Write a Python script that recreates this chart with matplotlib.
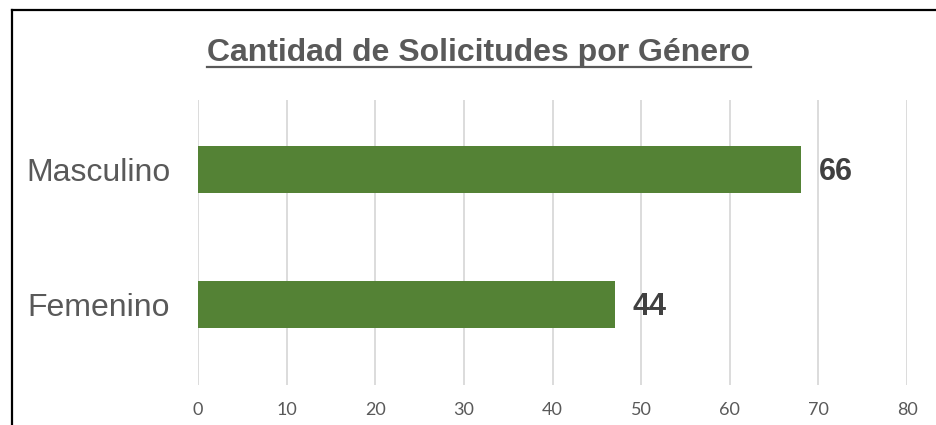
import matplotlib
matplotlib.use("Agg")
import matplotlib.pyplot as plt
from matplotlib.lines import Line2D

categories = ["Femenino", "Masculino"]
bar_values = [47, 68]
label_texts = ["44", "66"]
xticks = [0, 10, 20, 30, 40, 50, 60, 70, 80]

W, H = 936, 425
fig = plt.figure(figsize=(W / 100, H / 100), dpi=100)
fig.patch.set_facecolor("white")

ax = fig.add_axes([198 / W, 1 - 385 / H, (907 - 198) / W, (385 - 100) / H])
ypos = list(range(len(categories)))
ax.barh(ypos, bar_values, height=0.35, color="#548235", zorder=3)
ax.set_xlim(0, 80)
ax.set_ylim(-0.596, 1.515)
ax.set_xticks(xticks)
ax.set_xticklabels([str(t) for t in xticks], family="Lato", fontsize=13, color="#595959")
ax.set_yticks(ypos)
ax.set_yticklabels(categories, family="Liberation Sans", fontsize=23, color="#595959")
ax.tick_params(axis="both", length=0)
ax.tick_params(axis="x", pad=12)
ax.tick_params(axis="y", pad=20)
ax.grid(axis="x", color="#d9d9d9", linewidth=1.3, zorder=0)
for s in ax.spines.values():
    s.set_visible(False)

for y, v, t in zip(ypos, bar_values, label_texts):
    ax.annotate(t, (v, y), xytext=(13, -2), textcoords="offset points",
                ha="left", va="center", family="Liberation Sans",
                fontweight="bold", fontsize=22, color="#404040")

title = fig.text(479 / W, 1 - 61 / H, "Cantidad de Solicitudes por Género",
                 ha="center", va="baseline", family="Liberation Sans",
                 fontweight="bold", fontsize=23, color="#595959")

fig.canvas.draw()
bb = title.get_window_extent().transformed(fig.transFigure.inverted())
uy = 1 - 67 / H
fig.add_artist(Line2D([bb.x0, bb.x1], [uy, uy], transform=fig.transFigure,
                      color="#595959", linewidth=1.6))

# outer frame (partially cropped)
fig.add_artist(Line2D([12 / W, 12 / W], [0, 1 - 10 / H], transform=fig.transFigure,
                      color="black", linewidth=1.6))
fig.add_artist(Line2D([12 / W, 1.0], [1 - 10 / H, 1 - 10 / H], transform=fig.transFigure,
                      color="black", linewidth=1.6))

fig.savefig("out.png", dpi=100)
